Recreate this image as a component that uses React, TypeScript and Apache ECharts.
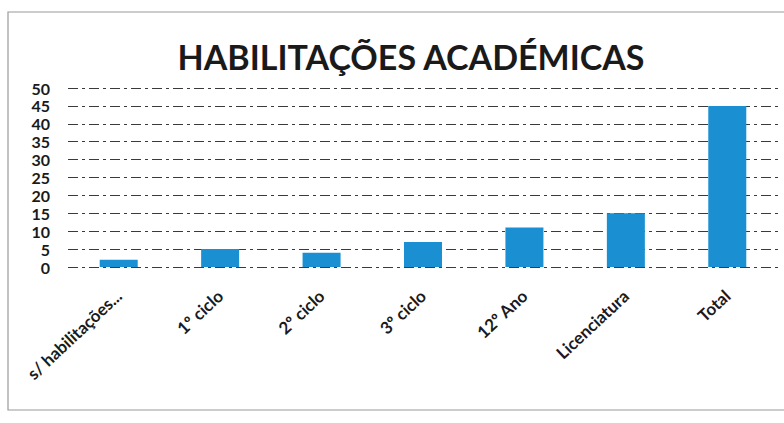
import React, { useEffect, useRef } from "react";
import * as echarts from "echarts";

const title = "HABILITAÇÕES ACADÉMICAS";
const categories = [
  "s/ habilitações...",
  "1º ciclo",
  "2º ciclo",
  "3º ciclo",
  "12º Ano",
  "Licenciatura",
  "Total",
];
const values = [2, 5, 4, 7, 11, 15, 45];
const yTicks = { min: 0, max: 50, interval: 5 };

export default function App() {
  const ref = useRef<HTMLDivElement>(null);
  useEffect(() => {
    document.body.style.margin = "0";
    const chart = echarts.init(ref.current!, null, { renderer: "svg" });
    chart.setOption({
      animation: false,
      backgroundColor: "#ffffff",
      title: {
        text: title,
        left: 406,
        textAlign: "center",
        top: 34,
        textStyle: {
          fontFamily: "Lato",
          fontWeight: "bold",
          fontSize: 34,
          color: "#1a1a1a",
        },
      },
      graphic: [
        {
          type: "rect",
          shape: { x: 8, y: 12, width: 800, height: 398 },
          style: { fill: "none", stroke: "#9a9a9a", lineWidth: 1.2 },
          silent: true,
        },
      ],
      grid: { left: 68, right: 6, top: 88, bottom: 156, containLabel: false },
      xAxis: {
        type: "category",
        data: categories,
        axisLine: { show: false },
        axisTick: { show: false },
        axisLabel: {
          rotate: 43,
          interval: 0,
          margin: 26,
          fontFamily: "Lato",
          fontWeight: "bold",
          fontSize: 17,
          color: "#1a1a1a",
        },
      },
      yAxis: {
        type: "value",
        min: yTicks.min,
        max: yTicks.max,
        interval: yTicks.interval,
        axisLine: { show: false },
        axisTick: { show: false },
        axisLabel: {
          margin: 18,
          fontFamily: "Lato",
          fontWeight: "bold",
          fontSize: 16,
          lineHeight: 16,
          color: "#1a1a1a",
        },
        splitLine: {
          show: true,
          lineStyle: { color: "#3a3a3a", width: 1, type: [10, 4, 3, 4] },
        },
      },
      series: [
        {
          type: "bar",
          data: values,
          barWidth: 38,
          itemStyle: { color: "#1a8fd2" },
        },
      ],
    });
    return () => chart.dispose();
  }, []);
  return (
    <div
      ref={ref}
      style={{ position: "absolute", left: 0, top: 0, width: 784, height: 423 }}
    />
  );
}
